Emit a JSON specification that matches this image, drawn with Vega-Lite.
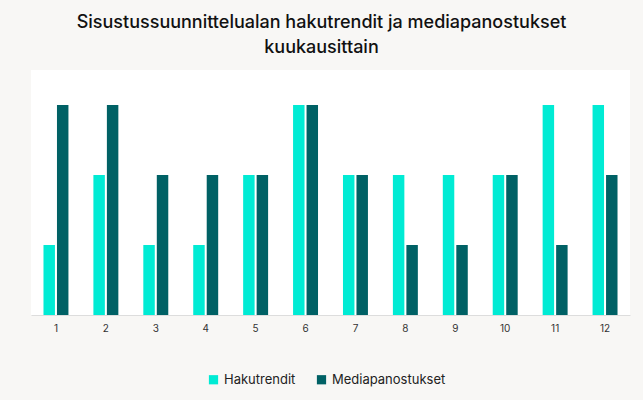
{
  "$schema": "https://vega.github.io/schema/vega-lite/v6.json",
  "autosize": {"type": "none"},
  "width": 599,
  "height": 245,
  "padding": {"left": 31, "top": 70, "right": 13, "bottom": 85},
  "background": "#f8f7f5",
  "title": {
    "text": ["Sisustussuunnittelualan hakutrendit ja mediapanostukset", "kuukausittain"],
    "font": "Inter",
    "fontSize": 18,
    "fontWeight": 500,
    "color": "#111111",
    "anchor": "middle",
    "dx": -9,
    "offset": 13,
    "lineHeight": 25
  },
  "data": {
    "values": [
      {"kuukausi": 1, "sarja": "Hakutrendit", "arvo": 1},
      {"kuukausi": 1, "sarja": "Mediapanostukset", "arvo": 3},
      {"kuukausi": 2, "sarja": "Hakutrendit", "arvo": 2},
      {"kuukausi": 2, "sarja": "Mediapanostukset", "arvo": 3},
      {"kuukausi": 3, "sarja": "Hakutrendit", "arvo": 1},
      {"kuukausi": 3, "sarja": "Mediapanostukset", "arvo": 2},
      {"kuukausi": 4, "sarja": "Hakutrendit", "arvo": 1},
      {"kuukausi": 4, "sarja": "Mediapanostukset", "arvo": 2},
      {"kuukausi": 5, "sarja": "Hakutrendit", "arvo": 2},
      {"kuukausi": 5, "sarja": "Mediapanostukset", "arvo": 2},
      {"kuukausi": 6, "sarja": "Hakutrendit", "arvo": 3},
      {"kuukausi": 6, "sarja": "Mediapanostukset", "arvo": 3},
      {"kuukausi": 7, "sarja": "Hakutrendit", "arvo": 2},
      {"kuukausi": 7, "sarja": "Mediapanostukset", "arvo": 2},
      {"kuukausi": 8, "sarja": "Hakutrendit", "arvo": 2},
      {"kuukausi": 8, "sarja": "Mediapanostukset", "arvo": 1},
      {"kuukausi": 9, "sarja": "Hakutrendit", "arvo": 2},
      {"kuukausi": 9, "sarja": "Mediapanostukset", "arvo": 1},
      {"kuukausi": 10, "sarja": "Hakutrendit", "arvo": 2},
      {"kuukausi": 10, "sarja": "Mediapanostukset", "arvo": 2},
      {"kuukausi": 11, "sarja": "Hakutrendit", "arvo": 3},
      {"kuukausi": 11, "sarja": "Mediapanostukset", "arvo": 1},
      {"kuukausi": 12, "sarja": "Hakutrendit", "arvo": 3},
      {"kuukausi": 12, "sarja": "Mediapanostukset", "arvo": 2}
    ]
  },
  "mark": {"type": "bar"},
  "encoding": {
    "x": {
      "field": "kuukausi",
      "type": "ordinal",
      "title": null,
      "scale": {"paddingInner": 0.5, "paddingOuter": 0.25},
      "axis": {
        "labelAngle": 0,
        "labelFont": "Inter",
        "labelFontSize": 10,
        "labelColor": "#333333",
        "labelPadding": 8,
        "ticks": false,
        "domainColor": "#dddddd",
        "grid": false
      }
    },
    "xOffset": {"field": "sarja", "type": "nominal", "scale": {"paddingInner": 0.15}},
    "y": {
      "field": "arvo",
      "type": "quantitative",
      "scale": {"domain": [0, 3.5]},
      "axis": null
    },
    "color": {
      "field": "sarja",
      "type": "nominal",
      "title": null,
      "scale": {"domain": ["Hakutrendit", "Mediapanostukset"], "range": ["#00ebd4", "#006165"]},
      "legend": {
        "orient": "none",
        "legendX": 176,
        "legendY": 303,
        "direction": "horizontal",
        "symbolType": "square",
        "symbolSize": 85,
        "symbolStrokeWidth": 0,
        "symbolOpacity": 1,
        "labelFont": "Inter",
        "labelFontSize": 13,
        "labelColor": "#222222",
        "labelOffset": 4,
        "columnPadding": 19
      }
    }
  },
  "config": {
    "view": {"fill": "white", "stroke": null}
  }
}
